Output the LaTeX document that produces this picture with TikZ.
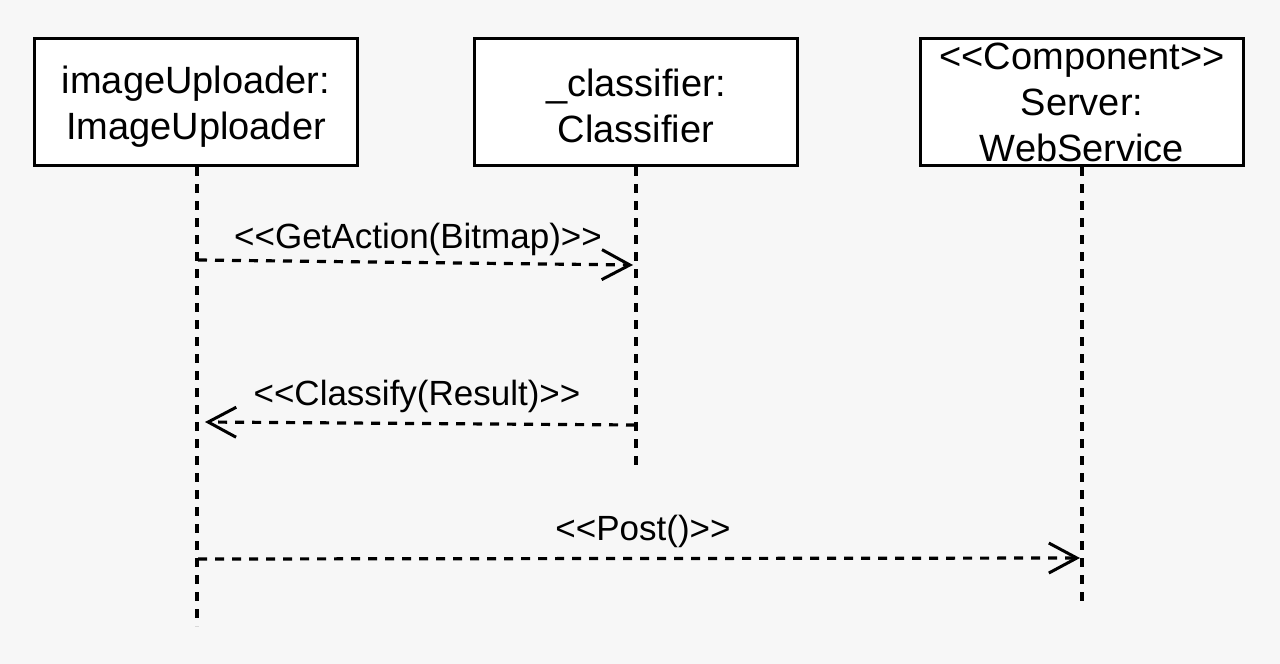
\documentclass[tikz,border=0pt]{standalone}
\usepackage{fontspec}
\setmainfont{Liberation Sans}[Ligatures=TeXOff]
\usetikzlibrary{arrows.meta}
\definecolor{bgc}{HTML}{F7F7F7}
\begin{document}
\begin{tikzpicture}[x=1pt,y=-1pt,
  obj/.style={draw=black, line width=3.5pt, fill=white, minimum width=323pt, minimum height=127pt,
    align=center, inner sep=0pt, font=\fontsize{38}{46}\selectfont},
  life/.style={line width=3.2pt, dash pattern=on 9pt off 8pt},
  msg/.style={line width=3.2pt, dash pattern=on 9pt off 8pt,
    -{Straight Barb[length=28pt,width=30pt,line width=3pt]}},
  lbl/.style={anchor=base, inner sep=0pt, font=\fontsize{35}{42}\selectfont}]
\fill[bgc] (0,0) rectangle (1280,664);
\useasboundingbox (0,0) rectangle (1280,664);

% objects
\node[obj] (iu) at (196,102) {\rule{0pt}{36pt}imageUploader:\\ImageUploader};
\node[obj] (cl) at (636,102) {\rule{0pt}{36pt}\_classifier:\\Classifier};
\node[obj] (ws) at (1082,102) {<<Component>>\\Server:\\WebService};

% lifeline ends
\coordinate (iuE) at (197,626);
\coordinate (clE) at (636,465);
\coordinate (wsE) at (1082,605);
\coordinate (iuS) at (197,167);
\draw[life] (iuS) -- (iuE);
\draw[life] (cl.south) -- (clE);
\draw[life] (ws.south) -- (wsE);

% messages
\coordinate (m1s) at (198,260);
\coordinate (m1e) at (633,265);
\coordinate (m2s) at (635,425);
\coordinate (m2e) at (205,422);
\coordinate (m3s) at (198,559);
\coordinate (m3e) at (1080,558);
\draw[msg] (m1s) -- (m1e);
\draw[msg] (m2s) -- (m2e);
\draw[msg] (m3s) -- (m3e);

\node[lbl] (l1) at (418,248) {<<GetAction(Bitmap)>>};
\node[lbl] (l2) at (417,405) {<<Classify(Result)>>};
\node[lbl] (l3) at (643,540) {<<Post()>>};
\end{tikzpicture}
\end{document}
